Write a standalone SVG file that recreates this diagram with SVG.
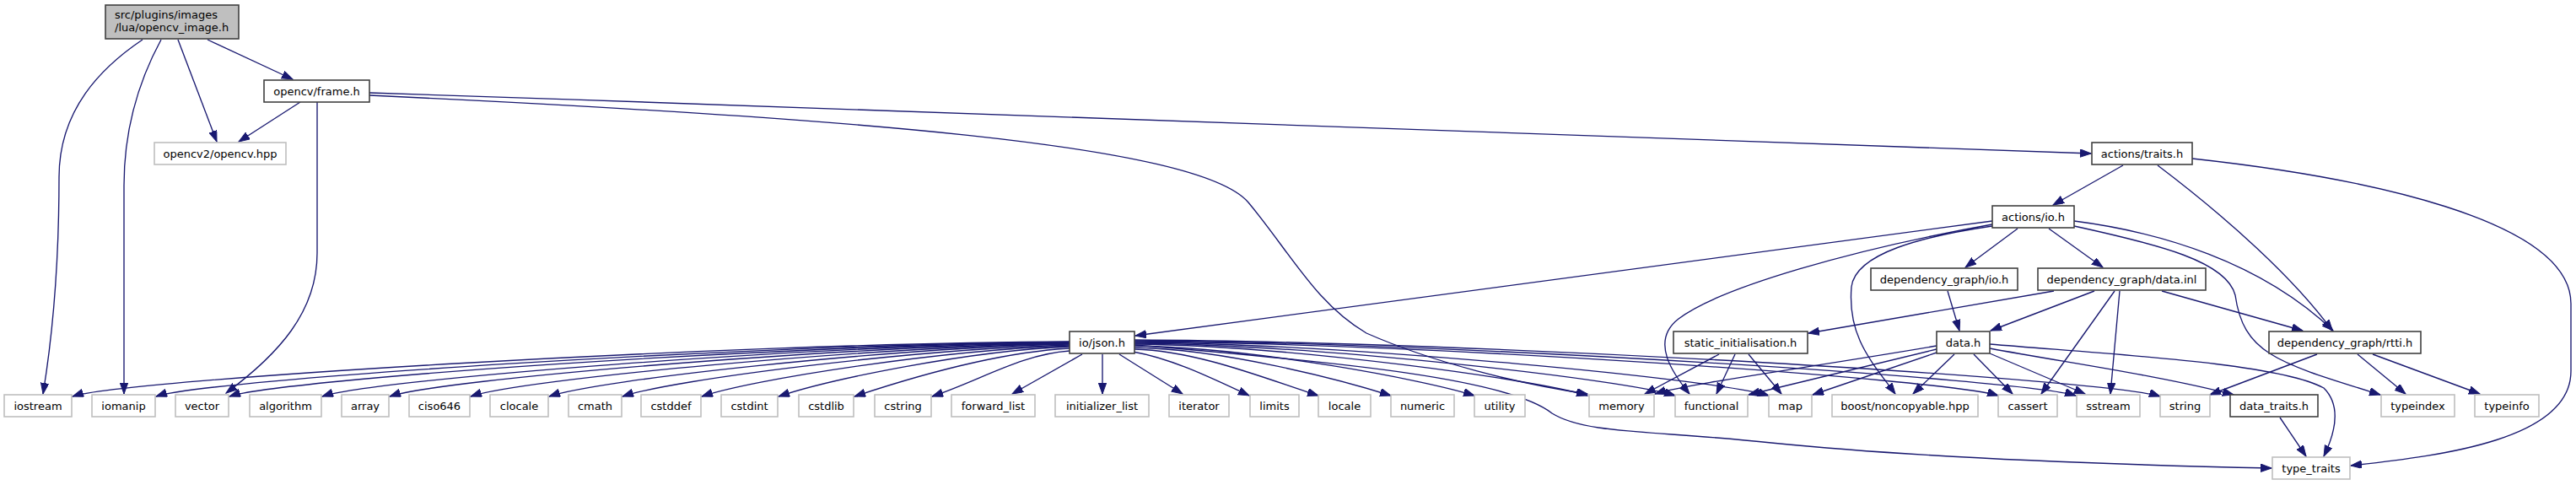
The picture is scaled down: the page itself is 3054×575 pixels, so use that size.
<svg xmlns="http://www.w3.org/2000/svg" width="3054" height="575" viewBox="0 0 3054 575">
<style>
.bg{fill:#ffffff}
.d rect{fill:#ffffff;stroke:#404040;stroke-width:1.6}
.x rect{fill:#ffffff;stroke:#bfbfbf;stroke-width:1.6}
.r rect{fill:#bfbfbf;stroke:#404040;stroke-width:1.6}
text{font-family:"DejaVu Sans","Liberation Sans",sans-serif;font-size:13px;fill:#000000;text-anchor:middle}
text.l{text-anchor:start}
#edges path{fill:none;stroke:#191970;stroke-width:1.35;marker-end:url(#ah)}
</style>
<defs>
<marker id="ah" markerUnits="userSpaceOnUse" markerWidth="14" markerHeight="10" refX="13" refY="4.7" orient="auto">
<path d="M0,0 L13,4.7 L0,9.4 z" fill="#191970" stroke="#191970" stroke-width="1"/>
</marker>
</defs>
<rect class="bg" x="0" y="0" width="3054" height="575"/>
<g id="edges">
<path d="M169,47 C120,80 70,130 70,210 C70,310 62,400 51,467"/>
<path d="M191,47 C165,95 147,150 147,220 L147,467"/>
<path d="M211,47 L257,168"/>
<path d="M246,47 L347,94"/>
<path d="M356,121 L283,168"/>
<path d="M376,121 L376,300 C376,370 330,420 268,466"/>
<path d="M438,113 C1000,140 1420,170 1480,240 C1530,300 1560,360 1620,395 C1700,430 1800,455 1882,467"/>
<path d="M438,110 C1200,135 2000,165 2479,182"/>
<path d="M2517,196 L2434,243"/>
<path d="M2558,196 C2640,258 2720,330 2765,392"/>
<path d="M2599,188 C2800,210 3048,260 3048,360 L3048,440 C3048,520 2900,540 2787,552"/>
<path d="M2362,262 L1346,398"/>
<path d="M2362,266 C2200,295 2040,340 1990,378 C1955,405 1985,445 2003,467"/>
<path d="M2362,268 C2280,280 2200,300 2195,340 C2190,400 2220,430 2247,467"/>
<path d="M2392,271 L2330,317"/>
<path d="M2429,271 L2493,317"/>
<path d="M2459,262 C2560,275 2680,310 2766,392"/>
<path d="M2459,268 C2560,290 2640,310 2650,350 C2660,420 2700,430 2822,468"/>
<path d="M2309,345 L2323,392"/>
<path d="M2435,345 L2144,395"/>
<path d="M2483,345 L2360,392"/>
<path d="M2507,345 L2420,467"/>
<path d="M2513,345 L2502,467"/>
<path d="M2563,345 L2730,392"/>
<path d="M2296,410 C2150,435 2000,455 1962,467"/>
<path d="M2296,414 L2073,468"/>
<path d="M2296,418 L2149,468"/>
<path d="M2317,420 L2268,467"/>
<path d="M2340,420 L2386,467"/>
<path d="M2359,419 L2472,467"/>
<path d="M2359,413 C2450,430 2560,445 2648,468"/>
<path d="M2359,408 C2500,420 2700,430 2755,460 C2775,480 2770,510 2755,541"/>
<path d="M2038,420 L1950,467"/>
<path d="M2057,420 L2035,467"/>
<path d="M2073,420 L2112,467"/>
<path d="M2747,420 L2620,468"/>
<path d="M2795,420 L2852,467"/>
<path d="M2813,420 L2940,467"/>
<path d="M2703,495 L2734,541"/>
<path d="M1268,405 C854,407 146,450 86,470"/>
<path d="M1268,405.5 C883,408 244,450 185,470"/>
<path d="M1268,406 C914,409 331,450 272,470"/>
<path d="M1268,406.5 C950,410 441,450 382,470"/>
<path d="M1268,407 C985,411 521,450 462,470"/>
<path d="M1268,407.5 C1020,412 617,450 558,470"/>
<path d="M1268,408 C1051,413 710,450 651,470"/>
<path d="M1268,409 C1082,414 797,450 738,470"/>
<path d="M1268,410 C1114,415 891,450 832,470"/>
<path d="M1268,411 C1146,416 983,450 923,470"/>
<path d="M1268,413 C1177,418 1073,450 1013,470"/>
<path d="M1268,416 C1211,420 1164,450 1105,470"/>
<path d="M1283,420 L1200,467"/>
<path d="M1307,420 L1307,467"/>
<path d="M1327,420 L1402,467"/>
<path d="M1343,417 C1390,425 1440,450 1481,469"/>
<path d="M1345,414 C1421,416 1503,450 1563,469"/>
<path d="M1345,412 C1451,414 1589,450 1649,469"/>
<path d="M1345,410 C1486,412 1688,450 1748,469"/>
<path d="M1345,408 C1533,410 1822,450 1882,469"/>
<path d="M1345,407 C1569,409 1926,450 1986,469"/>
<path d="M1345,406 C1608,408 2037,450 2097,469"/>
<path d="M1345,405 C1703,407 2309,450 2369,469"/>
<path d="M1345,404 C1735,406 2401,450 2461,469"/>
<path d="M1345,403 C1770,405 2501,450 2561,470"/>
<path d="M1345,409 C1600,430 1790,450 1840,490 C1880,515 1960,510 2100,525 C2300,545 2550,552 2693,555"/>
</g>
<g id="n_root" class="r"><rect x="125" y="6" width="158" height="40"/><text class="l" x="136" y="22">src/plugins/images</text><text class="l" x="136" y="37">/lua/opencv_image.h</text></g>
<g id="n_frame" class="d"><rect x="313" y="95" width="125" height="26"/><text x="375.5" y="112.5">opencv/frame.h</text></g>
<g id="n_opencvhpp" class="x"><rect x="183" y="169" width="156" height="26"/><text x="261" y="186.5">opencv2/opencv.hpp</text></g>
<g id="n_traits" class="d"><rect x="2480" y="169" width="119" height="26"/><text x="2539.5" y="186.5">actions/traits.h</text></g>
<g id="n_actio" class="d"><rect x="2362" y="244" width="97" height="26"/><text x="2410.5" y="261.5">actions/io.h</text></g>
<g id="n_dgio" class="d"><rect x="2218" y="318" width="174" height="26"/><text x="2305" y="335.5">dependency_graph/io.h</text></g>
<g id="n_dginl" class="d"><rect x="2416" y="318" width="199" height="26"/><text x="2515.5" y="335.5">dependency_graph/data.inl</text></g>
<g id="n_json" class="d"><rect x="1268" y="393" width="77" height="26"/><text x="1306.5" y="410.5">io/json.h</text></g>
<g id="n_static" class="d"><rect x="1984" y="393" width="159" height="26"/><text x="2063.5" y="410.5">static_initialisation.h</text></g>
<g id="n_datah" class="d"><rect x="2296" y="393" width="63" height="26"/><text x="2327.5" y="410.5">data.h</text></g>
<g id="n_rtti" class="d"><rect x="2690" y="393" width="180" height="26"/><text x="2780" y="410.5">dependency_graph/rtti.h</text></g>
<g id="n_iostream" class="x"><rect x="5" y="468" width="80" height="26"/><text x="45" y="485.5">iostream</text></g>
<g id="n_iomanip" class="x"><rect x="109" y="468" width="75" height="26"/><text x="146.5" y="485.5">iomanip</text></g>
<g id="n_vector" class="x"><rect x="208" y="468" width="63" height="26"/><text x="239.5" y="485.5">vector</text></g>
<g id="n_algorithm" class="x"><rect x="296" y="468" width="85" height="26"/><text x="338.5" y="485.5">algorithm</text></g>
<g id="n_array" class="x"><rect x="405" y="468" width="56" height="26"/><text x="433" y="485.5">array</text></g>
<g id="n_ciso646" class="x"><rect x="485" y="468" width="72" height="26"/><text x="521" y="485.5">ciso646</text></g>
<g id="n_clocale" class="x"><rect x="581" y="468" width="69" height="26"/><text x="615.5" y="485.5">clocale</text></g>
<g id="n_cmath" class="x"><rect x="674" y="468" width="63" height="26"/><text x="705.5" y="485.5">cmath</text></g>
<g id="n_cstddef" class="x"><rect x="760" y="468" width="71" height="26"/><text x="795.5" y="485.5">cstddef</text></g>
<g id="n_cstdint" class="x"><rect x="855" y="468" width="67" height="26"/><text x="888.5" y="485.5">cstdint</text></g>
<g id="n_cstdlib" class="x"><rect x="947" y="468" width="65" height="26"/><text x="979.5" y="485.5">cstdlib</text></g>
<g id="n_cstring" class="x"><rect x="1037" y="468" width="67" height="26"/><text x="1070.5" y="485.5">cstring</text></g>
<g id="n_forward_list" class="x"><rect x="1128" y="468" width="99" height="26"/><text x="1177.5" y="485.5">forward_list</text></g>
<g id="n_initializer_list" class="x"><rect x="1251" y="468" width="111" height="26"/><text x="1306.5" y="485.5">initializer_list</text></g>
<g id="n_iterator" class="x"><rect x="1386" y="468" width="71" height="26"/><text x="1421.5" y="485.5">iterator</text></g>
<g id="n_limits" class="x"><rect x="1482" y="468" width="58" height="26"/><text x="1511" y="485.5">limits</text></g>
<g id="n_locale" class="x"><rect x="1563" y="468" width="62" height="26"/><text x="1594" y="485.5">locale</text></g>
<g id="n_numeric" class="x"><rect x="1649" y="468" width="75" height="26"/><text x="1686.5" y="485.5">numeric</text></g>
<g id="n_utility" class="x"><rect x="1748" y="468" width="60" height="26"/><text x="1778" y="485.5">utility</text></g>
<g id="n_memory" class="x"><rect x="1884" y="468" width="77" height="26"/><text x="1922.5" y="485.5">memory</text></g>
<g id="n_functional" class="x"><rect x="1986" y="468" width="86" height="26"/><text x="2029" y="485.5">functional</text></g>
<g id="n_map" class="x"><rect x="2097" y="468" width="51" height="26"/><text x="2122.5" y="485.5">map</text></g>
<g id="n_boost" class="x"><rect x="2172" y="468" width="173" height="26"/><text x="2258.5" y="485.5">boost/noncopyable.hpp</text></g>
<g id="n_cassert" class="x"><rect x="2369" y="468" width="70" height="26"/><text x="2404" y="485.5">cassert</text></g>
<g id="n_sstream" class="x"><rect x="2462" y="468" width="75" height="26"/><text x="2499.5" y="485.5">sstream</text></g>
<g id="n_string" class="x"><rect x="2561" y="468" width="59" height="26"/><text x="2590.5" y="485.5">string</text></g>
<g id="n_data_traits" class="d"><rect x="2644" y="468" width="104" height="26"/><text x="2696" y="485.5">data_traits.h</text></g>
<g id="n_typeindex" class="x"><rect x="2823" y="468" width="87" height="26"/><text x="2866.5" y="485.5">typeindex</text></g>
<g id="n_typeinfo" class="x"><rect x="2934" y="468" width="76" height="26"/><text x="2972" y="485.5">typeinfo</text></g>
<g id="n_type_traits" class="x"><rect x="2694" y="542" width="92" height="26"/><text x="2740" y="559.5">type_traits</text></g>
</svg>
